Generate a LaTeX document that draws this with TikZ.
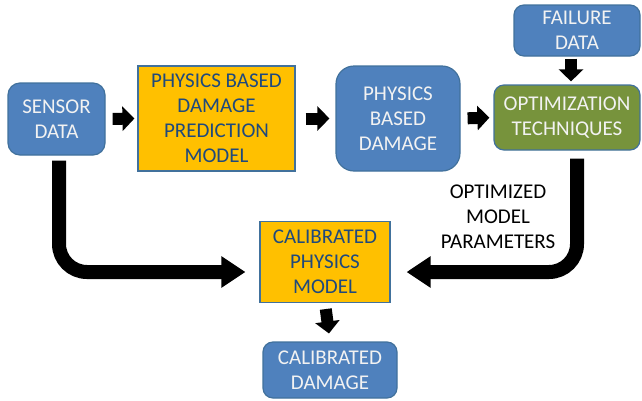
\documentclass[tikz,border=0pt]{standalone}
\usepackage{fontspec}
\setmainfont{Carlito}
\usetikzlibrary{arrows.meta}
\definecolor{bfill}{HTML}{4F81BD}
\definecolor{bdraw}{HTML}{41719C}
\definecolor{ofill}{HTML}{FFC000}
\definecolor{gfill}{HTML}{77933C}
\definecolor{dtext}{HTML}{1F497D}
\begin{document}
\begin{tikzpicture}[x=1pt,y=-1pt,
  box/.style={draw=bdraw,line width=1.2pt,align=center,inner sep=0pt,
    font=\fontsize{21}{25}\selectfont},
  bluebox/.style={box,fill=bfill,text=white!95!black},
  orangebox/.style={box,fill=ofill,text=dtext},
  greenbox/.style={box,fill=gfill,text=white!95!black},
  small/.style={line width=12pt,-{Triangle[length=12pt,width=24pt]}},
  big/.style={line width=14pt,rounded corners=28pt,-{Triangle[length=24pt,width=30pt]}}]
\useasboundingbox (0,0) rectangle (642,400);
\node[bluebox,rounded corners=12pt,minimum width=97pt,minimum height=72pt] (sensor) at (56.5,119) {SENSOR\\DATA};
\node[orangebox,minimum width=157pt,minimum height=105pt] (pred) at (216.5,118.5) {PHYSICS BASED\\DAMAGE\\PREDICTION\\MODEL};
\node[bluebox,rounded corners=18pt,minimum width=124pt,minimum height=105pt] (dmg) at (398,118.5) {PHYSICS\\BASED\\DAMAGE};
\node[greenbox,rounded corners=10pt,minimum width=146pt,minimum height=65pt] (opt) at (567,117.5) {OPTIMIZATION\\TECHNIQUES};
\node[bluebox,rounded corners=10pt,minimum width=126pt,minimum height=51pt] (fail) at (577,30.5) {FAILURE\\DATA};
\node[orangebox,minimum width=130pt,minimum height=81pt] (calib) at (325,262) {CALIBRATED\\PHYSICS\\MODEL};
\node[bluebox,rounded corners=10pt,minimum width=134pt,minimum height=56pt] (cdmg) at (330,370) {CALIBRATED\\DAMAGE};
\node[align=center,inner sep=0pt,font=\fontsize{21}{25}\selectfont] (lbl) at (498,217) {OPTIMIZED\\MODEL\\PARAMETERS};
\draw[small,shorten <=7pt,shorten >=3pt] (sensor.east) -- (pred.west);
\draw[small,shorten <=10pt,shorten >=6pt] (pred.east) -- (dmg.west);
\draw[small,shorten <=7pt,shorten >=4pt] (dmg.east) -- (opt.west);
\draw[small,shorten <=2pt,shorten >=3pt] ([xshift=-6pt]fail.south) -- ([xshift=4pt]opt.north);
\draw[small,shorten <=6pt,shorten >=8pt] (calib.south) -- (cdmg.north);
\draw[big,shorten <=5pt,shorten >=14pt] ([xshift=2.5pt]sensor.south) |- ([yshift=-10pt]calib.west);
\draw[big,shorten <=8pt,shorten >=16pt] ([xshift=10pt]opt.south) |- ([yshift=-10pt]calib.east);
\end{tikzpicture}
\end{document}
